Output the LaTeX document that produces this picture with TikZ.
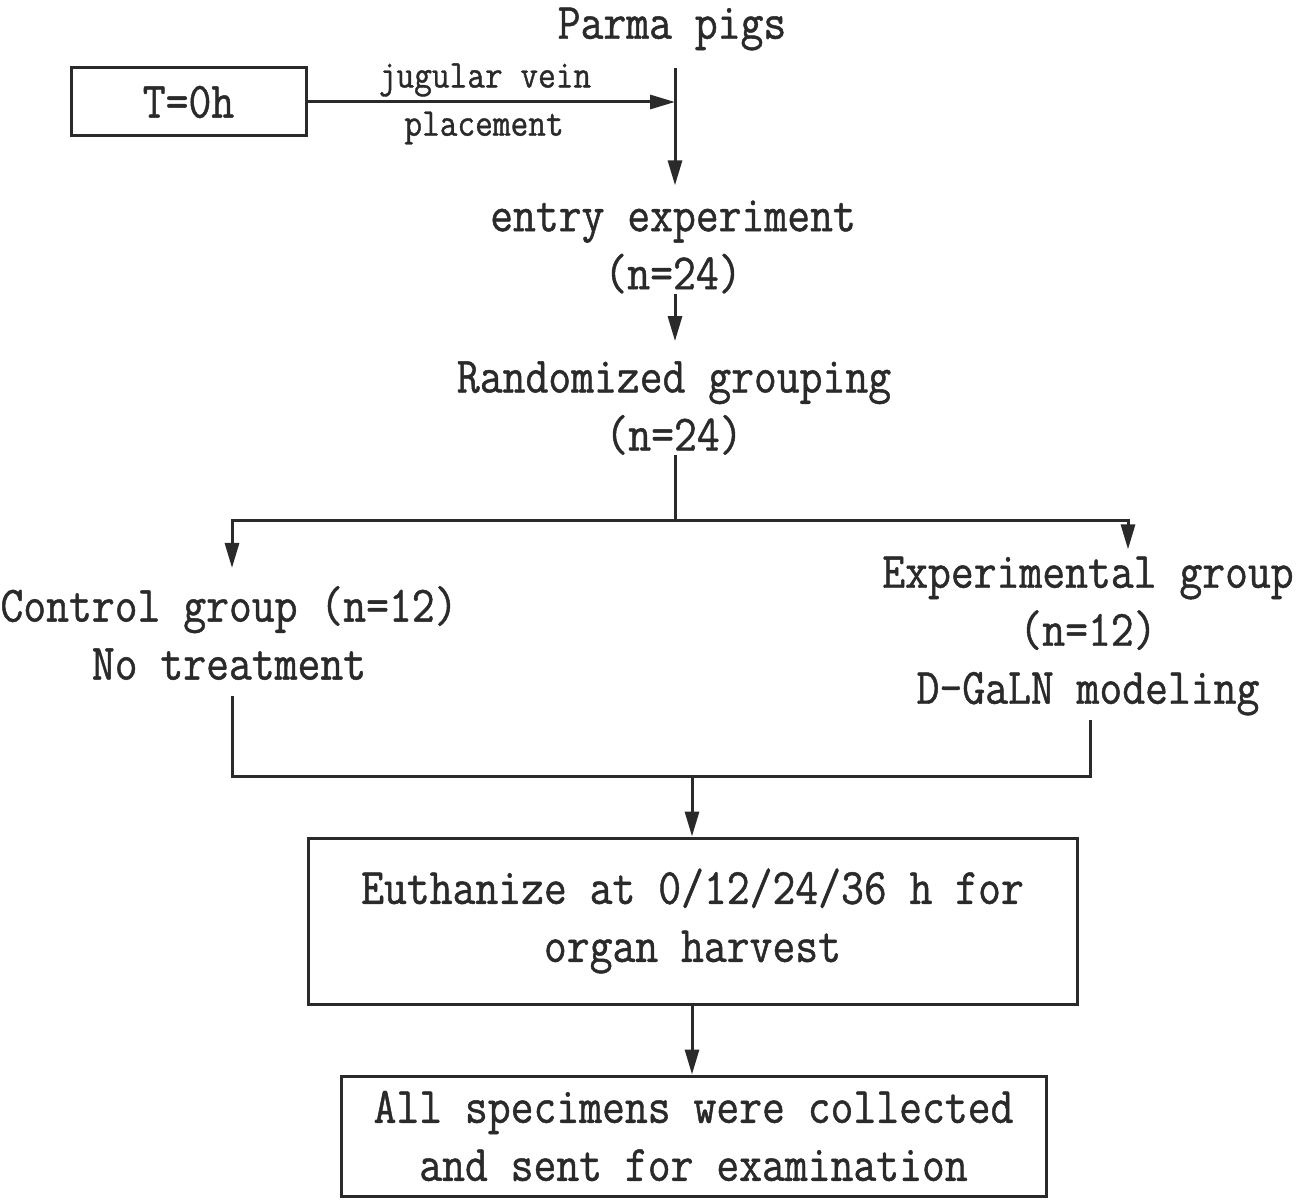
\documentclass[tikz,border=0pt]{standalone}
\usepackage{fontspec}
\newfontfamily\lab{Latin Modern Mono}[FakeStretch=0.87,FakeBold=0.9]
\usetikzlibrary{arrows.meta,calc}
\definecolor{ink}{HTML}{2A2A2A}
\tikzset{
  lbl/.style={font=\lab\fontsize{51}{58}\selectfont, text=ink, align=center, inner sep=0pt},
  small/.style={font=\lab\fontsize{39.5}{46}\selectfont, text=ink, inner sep=0pt},
  box/.style={draw=ink, line width=3pt, inner sep=0pt},
  conn/.style={draw=ink, line width=3pt},
  arr/.style={conn, -{Triangle[length=25pt,width=14pt]}},
}
\begin{document}
\begin{tikzpicture}[x=1pt,y=-1pt]
\useasboundingbox[fill=white] (0,0) rectangle (1299,1201);

% boxes
\node[box, lbl, minimum width=235pt, minimum height=68pt] (t0) at (188.5,102) {T=0h};
\node[box, lbl, minimum width=769pt, minimum height=166pt] (box1) at (692.5,921) {Euthanize at 0/12/24/36 h for\\organ harvest};
\node[box, lbl, minimum width=705pt, minimum height=120pt] (box2) at (693.5,1136) {All specimens were collected\\and sent for examination};

% free texts
\node[lbl] (pigs) at (672,29) {Parma pigs};
\node[small] (jug) at (485,80) {jugular vein};
\node[small] (plc) at (484,128) {placement};
\node[lbl] (entry) at (673,247) {entry experiment\\(n=24)};
\node[lbl] (rand) at (674,408) {Randomized grouping\\(n=24)};
\node[lbl] (ctrl) at (229,633) {Control group (n=12)\\No treatment};
\node[lbl] (expg) at (1088,636) {Experimental group\\(n=12)\\D-GaLN modeling};

% junctions
\coordinate (jtop) at (675,68);
\coordinate (j) at (675,102);
\coordinate (split) at (675,520);
\coordinate (merge) at (692,776);

% connectors
\draw[arr] (t0.east) -- (j);
\draw[arr, shorten >=15pt] (jtop) -- (entry.north -| jtop);
\draw[arr, shorten >=20pt] (entry.south -| j) -- (rand.north -| j);
\draw[conn] (rand.south -| j) -- (split);
\draw[arr, shorten >=18pt] (split) -| ($(ctrl.north)+(3,0)$);
\draw[arr, shorten >=7pt] (split) -| ($(expg.north)+(40,0)$);
\draw[conn, shorten <=16pt] ($(ctrl.south)+(3,0)$) |- (merge);
\draw[conn, shorten <=4pt] ($(expg.south)+(2,0)$) |- (merge);
\draw[arr] (merge) -- (box1.north -| merge);
\draw[arr] (box1.south -| merge) -- (box2.north -| merge);
\end{tikzpicture}
\end{document}
